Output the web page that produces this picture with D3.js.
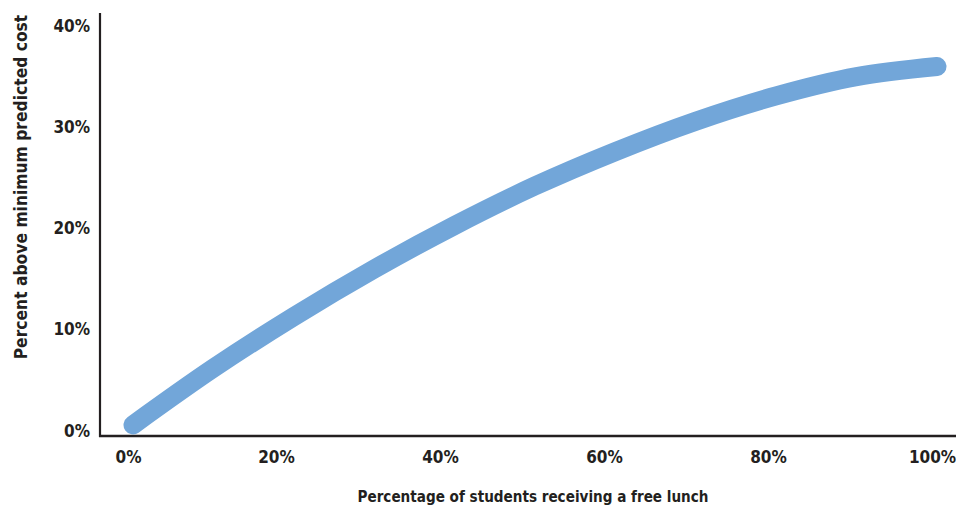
<!DOCTYPE html>
<html>
<head>
<meta charset="utf-8">
<script src="https://cdn.jsdelivr.net/npm/d3@7"></script>
<style>
  html, body { margin: 0; padding: 0; background: #fff; }
  svg { display: block; }
  text { font-family: "DejaVu Sans Condensed", "Liberation Sans Narrow", sans-serif; font-weight: bold; fill: #231f20; }
</style>
</head>
<body>
<svg id="chart" width="956" height="507"></svg>
<script>
// Data
const freeLunchPct = [0, 10, 20, 30, 40, 50, 60, 70, 80, 90, 100];
const costAboveMin = [0.5, 6.1, 11.2, 15.9, 20.2, 24.1, 27.5, 30.5, 33.0, 34.9, 35.9];
const xTickValues = [0, 20, 40, 60, 80, 100];
const yTickValues = [0, 10, 20, 30, 40];
const xTitle = "Percentage of students receiving a free lunch";
const yTitle = "Percent above minimum predicted cost";

const svg = d3.select("#chart");

const x = d3.scaleLinear().domain([0, 100]).range([133, 937]);
const xLabel = d3.scaleLinear().domain([0, 100]).range([112, 932]);
const y = d3.scaleLinear().domain([0, 40]).range([430, 25]);

// Axis lines
svg.append("line")
  .attr("x1", 100).attr("x2", 100)
  .attr("y1", y(40) - 12).attr("y2", y(0) + 7)
  .attr("stroke", "#231f20").attr("stroke-width", 2.2);
svg.append("line")
  .attr("x1", 99).attr("x2", 956)
  .attr("y1", y(0) + 6).attr("y2", y(0) + 6)
  .attr("stroke", "#231f20").attr("stroke-width", 2.4);

// Y tick labels
const yAxis = svg.append("g").attr("transform", "translate(90,0)")
  .call(d3.axisLeft(y).tickValues(yTickValues).tickSize(0).tickPadding(0).tickFormat(d => d + "%"));
yAxis.select(".domain").remove();
yAxis.selectAll("text").attr("font-size", 17).attr("font-family", null).attr("fill", "#231f20").attr("dy", "0.36em");

// X tick labels
const xAxis = svg.append("g").attr("transform", "translate(0,451)")
  .call(d3.axisBottom(xLabel).tickValues(xTickValues).tickSize(0).tickPadding(0).tickFormat(d => d + "%"));
xAxis.select(".domain").remove();
xAxis.selectAll("text").attr("font-size", 17).attr("font-family", null).attr("fill", "#231f20")
  .attr("dx", d => d === 0 ? 16 : 0);

// Axis titles
svg.append("text")
  .attr("x", 533).attr("y", 502)
  .attr("text-anchor", "middle")
  .attr("font-size", 15.1)
  .text(xTitle);
svg.append("text")
  .attr("transform", "translate(27,187) rotate(-90)")
  .attr("text-anchor", "middle")
  .attr("font-size", 17.3)
  .text(yTitle);

// Line
const line = d3.line()
  .x((d, i) => x(freeLunchPct[i]))
  .y(d => y(d))
  .curve(d3.curveCatmullRom.alpha(0.5));

svg.append("path")
  .datum(costAboveMin)
  .attr("d", line)
  .attr("fill", "none")
  .attr("stroke", "#72a6d9")
  .attr("stroke-width", 19)
  .attr("stroke-linecap", "round")
  .attr("stroke-linejoin", "round");
</script>
</body>
</html>
